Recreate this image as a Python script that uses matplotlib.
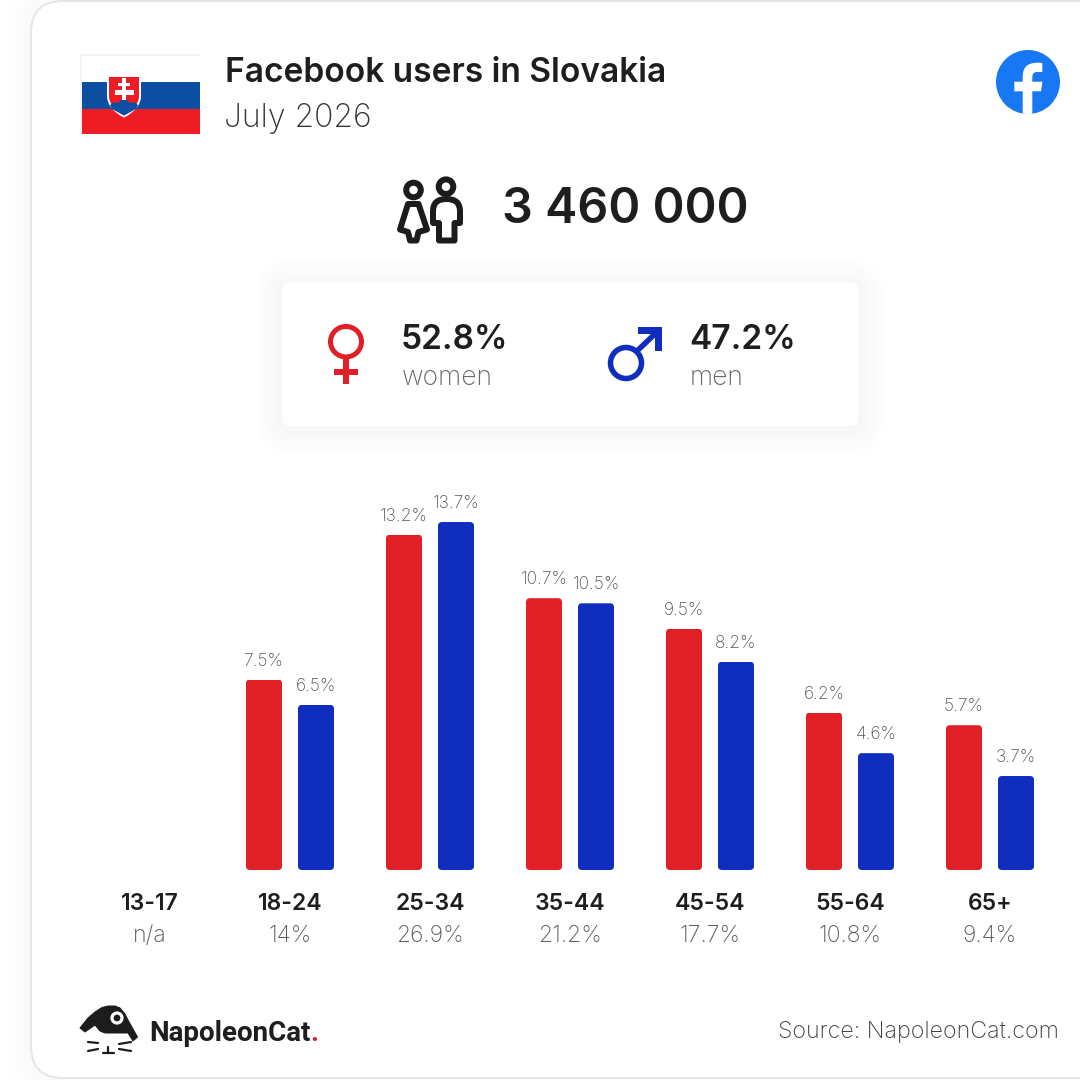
import numpy as np
import matplotlib
matplotlib.use("Agg")
import matplotlib.pyplot as plt
from matplotlib.patches import Circle, Ellipse, FancyBboxPatch, PathPatch, Polygon, Rectangle
from matplotlib.path import Path
from matplotlib.transforms import IdentityTransform

title = "Facebook users in Slovakia"
period = "July 2026"
total_users = "3 460 000"
women_share = "52.8%"
men_share = "47.2%"
source = "Source: NapoleonCat.com"

age_groups = ["13-17", "18-24", "25-34", "35-44", "45-54", "55-64", "65+"]
group_shares = ["n/a", "14%", "26.9%", "21.2%", "17.7%", "10.8%", "9.4%"]
women = [np.nan, 7.5, 13.2, 10.7, 9.5, 6.2, 5.7]
men = [np.nan, 6.5, 13.7, 10.5, 8.2, 4.6, 3.7]

RED = "#e01f26"
BLUE = "#0f2ec0"
DARK = "#1e1e1e"
GREY = "#5a5a5a"
FONT = "Inter"
PX = 0.72  # points per pixel at dpi 100

fig = plt.figure(figsize=(10.8, 10.8), dpi=100, facecolor="white")

# whole figure in pixels, y going down like the reference
ax = fig.add_axes([0, 0, 1, 1])
ax.set_xlim(0, 1080)
ax.set_ylim(1080, 0)
ax.axis("off")


def rounded(x0, y0, x1, y1, r, **kw):
    box = FancyBboxPatch((x0 + r, y0 + r), x1 - x0 - 2 * r, y1 - y0 - 2 * r,
                         boxstyle=f"round,pad={r},rounding_size={r}", **kw)
    ax.add_patch(box)
    return box


def shadow(x0, y0, x1, y1, r, spread, darkest, dy=0):
    # opaque steps, an alpha this low would round away to nothing in 8 bit
    steps = 255 - darkest
    for k in range(1, steps + 1):
        s = spread * (1 - (k - 1) / steps)
        level = (255 - k) / 255
        rounded(x0 - s, y0 - s + dy, x1 + s, y1 + s + dy, r + s, fc=(level, level, level), ec="none")


def label(x, y, s, size, weight=300, color=DARK, ha="left"):
    return ax.text(x, y, s, fontsize=size * PX, fontweight=weight, color=color,
                   family=FONT, ha=ha, va="baseline")


# outer card
shadow(31, 1, 1140, 1078, 32, 26, 250)
rounded(31, 1, 1140, 1078, 32, fc="white", ec="#e6e6e6", lw=2 * PX)

# flag
ax.add_patch(Rectangle((80, 54), 120, 80, fc="#f3f3f3", ec="none"))
ax.add_patch(Rectangle((82, 55.5), 118, 26.5, fc="white", ec="none"))
ax.add_patch(Rectangle((82, 82), 118, 27, fc="#0b4ea2", ec="none"))
ax.add_patch(Rectangle((82, 109), 118, 25, fc="#ee1c25", ec="none"))
shield = Path([(108, 76), (140, 76), (140, 96), (140, 108), (124, 116.5), (108, 108), (108, 96), (108, 76)],
              [Path.MOVETO, Path.LINETO, Path.LINETO, Path.CURVE3, Path.CURVE3, Path.CURVE3, Path.CURVE3, Path.LINETO])
ax.add_patch(PathPatch(shield, fc="#ee1c25", ec="white", lw=2 * PX, zorder=3))
hills = Polygon([(110, 105), (113, 102.5), (118, 103), (121, 100), (127, 100), (130, 103), (135, 102.5), (138, 105),
                 (136, 109), (124, 115.5), (112, 109)], fc="#0b4ea2", ec="none", zorder=4)
ax.add_patch(hills)
for x, y, w, h in [(122, 78, 4, 22), (118, 82.5, 12, 3.5), (114.5, 90, 19, 4.5)]:
    ax.add_patch(Rectangle((x, y), w, h, fc="white", ec="none", zorder=5))

label(225, 82, title, 33.5, 600)
label(224, 127, period, 32, 200, "#333333")

# facebook logo
fb = Circle((1028, 82), 32, fc="#1877f2", ec="none")
ax.add_patch(fb)
f_path = Path([(1022.7, 114), (1022.7, 91.3), (1014.3, 91.3), (1014.3, 81.7), (1022.7, 81.7), (1022.7, 76.5),
               (1022.7, 62.7), (1037, 62.7), (1040, 62.7), (1042.3, 63.2), (1042.3, 72), (1038, 72),
               (1032.3, 71.5), (1032.3, 77), (1032.3, 81.7), (1042.5, 81.7), (1041, 91.3), (1032.3, 91.3),
               (1032.3, 114), (1022.7, 114)],
              [Path.MOVETO] + [Path.LINETO] * 5 + [Path.CURVE3, Path.CURVE3] + [Path.LINETO] * 4
              + [Path.CURVE3, Path.CURVE3] + [Path.LINETO] * 6)
f_patch = PathPatch(f_path, fc="white", ec="none", zorder=3)
ax.add_patch(f_patch)
f_patch.set_clip_path(fb)

# people icon
ICON = dict(fc="none", ec="#1c1c1c", lw=6 * PX, joinstyle="round", zorder=3)
ax.add_patch(Circle((413.5, 190), 7.3, **ICON))
ax.add_patch(Circle((446, 186.7), 7.3, **ICON))
ax.add_patch(Polygon([(408, 204), (418.5, 204), (427, 229.5), (418.5, 232), (416.5, 240.5), (410, 240.5),
                      (408, 232), (400, 229.5)], closed=True, **ICON))
male_body = Path([(433, 223), (433, 211), (433, 199), (446.5, 199), (460, 199), (460, 211), (460, 223), (454.5, 223),
                  (454.5, 240.5), (439, 240.5), (439, 223), (433, 223)],
                 [Path.MOVETO, Path.LINETO, Path.CURVE3, Path.CURVE3, Path.CURVE3, Path.CURVE3,
                  Path.LINETO, Path.LINETO, Path.LINETO, Path.LINETO, Path.LINETO, Path.CLOSEPOLY])
ax.add_patch(PathPatch(male_body, **ICON))
label(502, 223, total_users, 48.5, 600)

# women / men box
shadow(282, 282, 858, 426, 8, 26, 247, dy=3)
rounded(282, 282, 858, 426, 8, fc="white", ec="none")

ax.add_patch(Ellipse((346, 341.7), 31, 30.5, fc="none", ec=RED, lw=5 * PX, zorder=3))
ax.add_patch(Rectangle((343.3, 358), 5.4, 26, fc=RED, ec="none", zorder=3))
ax.add_patch(Rectangle((334, 369), 24, 6, fc=RED, ec="none", zorder=3))
label(401, 349, women_share, 33.5, 600)
label(402, 385, "women", 26.5, 200, "#666666")

ax.add_patch(Circle((626, 363), 15.5, fc="none", ec=BLUE, lw=5.5 * PX, zorder=3))
ax.plot([637, 658], [351, 331], color=BLUE, lw=5.5 * PX, solid_capstyle="butt", zorder=3)
ax.add_patch(Polygon([(638, 327), (662, 327), (662, 351), (654.5, 351), (654.5, 334), (638, 334)], fc=BLUE, ec="none", zorder=3))
label(689, 349, men_share, 33.5, 600)
label(690, 385, "men", 26.5, 200, "#666666")

# logo and source
blob = Polygon([(80, 1028), (88, 1018), (95, 1012), (102, 1007.5), (108, 1006), (115, 1006), (120, 1008), (125, 1014),
                (128, 1020), (133, 1029), (137.5, 1037), (133, 1041), (128, 1033), (122, 1033), (105, 1033), (100, 1031),
                (95, 1025), (85, 1032)], fc="#1c1c1c", ec="#1c1c1c", lw=PX, joinstyle="round")
ax.add_patch(blob)
ax.add_patch(Circle((117, 1018), 5, fc="#1c1c1c", ec="white", lw=3.2 * PX, zorder=3))
for x0, y0, x1, y1 in [(88, 1042, 98, 1043), (88, 1051, 98, 1049), (119, 1044, 131, 1042), (119, 1049, 131, 1051),
                       (108, 1047, 108, 1053), (103, 1053, 114, 1053)]:
    ax.plot([x0, x1], [y0, y1], color="#1c1c1c", lw=2.2 * PX, solid_capstyle="round")
brand = ax.text(149, 1041, "NapoleonCat", fontsize=27.8 * PX, fontweight=700, color=DARK, family="Roboto", va="baseline")
ax.annotate(".", xy=(1, 0), xycoords=brand, xytext=(0, 0), textcoords="offset pixels", fontsize=27.8 * PX,
            fontweight=700, color=RED, family="Roboto", va="bottom")
label(1059, 1038, source, 23.3, 200, "#404040", ha="right")

# bars, 140 px per age group and 25.4 px per percent
ax_bar = fig.add_axes([80 / 1080, 210 / 1080, 980 / 1080, 400 / 1080])
ax_bar.patch.set_alpha(0)
ax_bar.set_xlim(-0.5, 6.5)
ax_bar.set_ylim(0, 400 / 25.4)
ax_bar.axis("off")

x = np.arange(len(age_groups))
offset = 26 / 140
width = 36 / 140
fig.canvas.draw()
for vals, side, color in [(women, -1, RED), (men, 1, BLUE)]:
    bars = ax_bar.bar(x + side * offset, vals, width=width, color=color, linewidth=0)
    for bar, val in zip(bars, vals):
        if np.isnan(val):
            continue
        # small rounded corners
        e = bar.get_window_extent()
        clip = FancyBboxPatch((e.x0 + 4, e.y0 + 4), e.width - 8, e.height - 8,
                              boxstyle="round,pad=4,rounding_size=4", transform=IdentityTransform())
        bar.set_clip_path(clip)
        ax_bar.annotate(f"{val}%", xy=(bar.get_x() + width / 2, val), xytext=(0, 14), textcoords="offset pixels",
                        ha="center", va="baseline", fontsize=17.3 * PX, fontweight=200, color="#555555", family=FONT)

for i, (group, share) in enumerate(zip(age_groups, group_shares)):
    ax_bar.annotate(group, xy=(i, 0), xytext=(0, -40), textcoords="offset pixels", ha="center", va="baseline",
                    fontsize=23 * PX, fontweight=600, color=DARK, family=FONT)
    ax_bar.annotate(share, xy=(i, 0), xytext=(0, -72), textcoords="offset pixels", ha="center", va="baseline",
                    fontsize=23 * PX, fontweight=200, color=GREY, family=FONT)

fig.savefig("out.png", dpi=100)
